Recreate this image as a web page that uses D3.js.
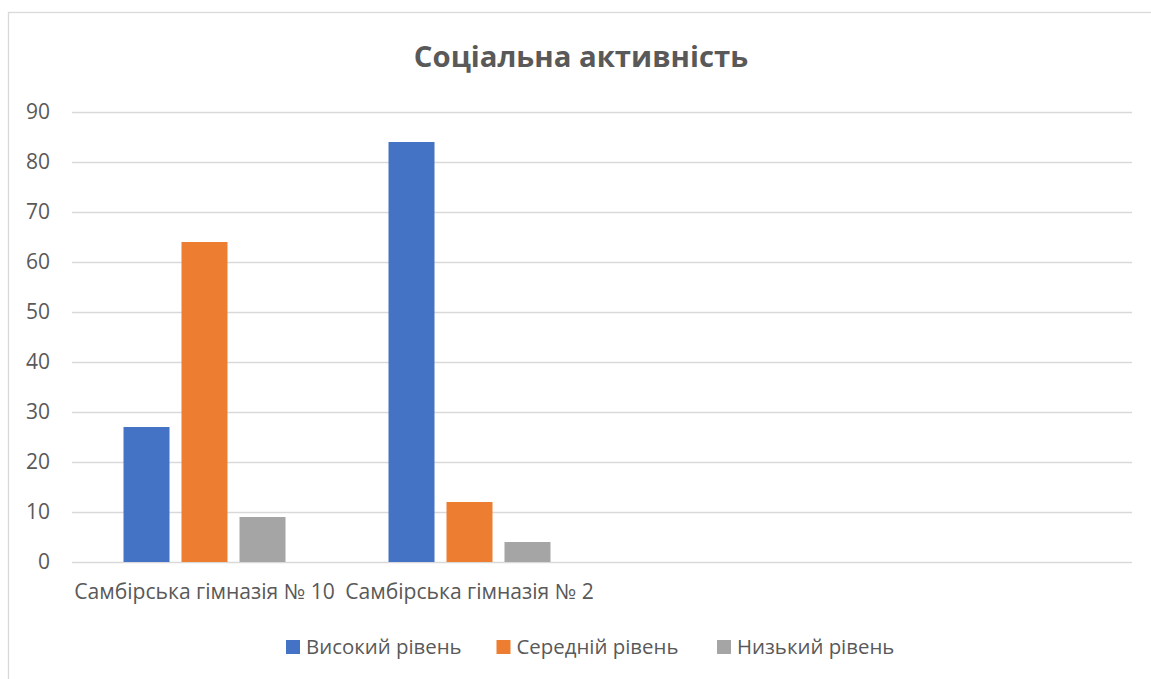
<!DOCTYPE html>
<html>
<head>
<meta charset="utf-8">
<script src="https://cdn.jsdelivr.net/npm/d3@7"></script>
<style>
  html, body { margin: 0; padding: 0; background: #fff; }
  svg { display: block; font-family: "Open Sans", "Noto Sans", sans-serif; }
</style>
</head>
<body>
<svg id="chart" width="1151" height="679"></svg>
<script>
const title = "Соціальна активність";
const categories = ["Самбірська гімназія № 10", "Самбірська гімназія № 2", "", ""];
const seriesNames = ["Високий рівень", "Середній рівень", "Низький рівень"];
const seriesColors = ["#4472C4", "#ED7D31", "#A5A5A5"];
const highValues = [27, 84];
const midValues = [64, 12];
const lowValues = [9, 4];
const yTicks = [0, 10, 20, 30, 40, 50, 60, 70, 80, 90];

const seriesValues = [highValues, midValues, lowValues];
const svg = d3.select("#chart");
const textColor = "#595959";
const gridColor = "#D9D9D9";

// chart border
svg.append("rect")
  .attr("x", 8.5).attr("y", 12.5)
  .attr("width", 1160).attr("height", 700)
  .attr("fill", "none").attr("stroke", gridColor).attr("stroke-width", 1.3);

const x = d3.scaleBand().domain(d3.range(categories.length)).range([72, 1132]).paddingInner(0).paddingOuter(0);
const x1 = d3.scaleBand().domain(d3.range(seriesNames.length)).range([0, x.bandwidth()])
  .paddingInner(12 / 58).paddingOuter(0.888);
const y = d3.scaleLinear().domain([0, 90]).range([562, 112]);

// gridlines
const yAxis = d3.axisLeft(y).tickValues(yTicks).tickSize(-(1132 - 72)).tickPadding(22);
const gy = svg.append("g").attr("transform", "translate(72,0)").call(yAxis);
gy.select(".domain").remove();
gy.selectAll(".tick line").attr("stroke", gridColor).attr("stroke-width", 1.3);
gy.selectAll(".tick text").attr("fill", textColor).attr("font-size", 21)
  .attr("font-family", '"Open Sans", sans-serif');

// bars
const barData = [];
seriesValues.forEach((vals, si) => vals.forEach((v, ci) => barData.push({ si, ci, v })));
svg.append("g").selectAll("rect").data(barData).join("rect")
  .attr("x", d => x(d.ci) + x1(d.si))
  .attr("y", d => y(d.v))
  .attr("width", x1.bandwidth())
  .attr("height", d => y(0) - y(d.v))
  .attr("fill", d => seriesColors[d.si]);

// x axis labels
const xAxis = d3.axisBottom(x).tickFormat(i => categories[i]).tickSize(0).tickPadding(22.5);
const gx = svg.append("g").attr("transform", "translate(0,562)").call(xAxis);
gx.select(".domain").remove();
gx.selectAll(".tick text").attr("fill", textColor).attr("font-size", 21.1)
  .attr("font-family", '"Open Sans", sans-serif');

// title
svg.append("text").attr("x", 581).attr("y", 67).attr("text-anchor", "middle")
  .attr("font-size", 29.3).attr("font-weight", "bold").attr("fill", textColor).text(title);

// legend
const legendX = [286, 496.5, 717];
const lg = svg.append("g").selectAll("g").data(seriesNames).join("g")
  .attr("transform", (d, i) => `translate(${legendX[i]},640)`);
lg.append("rect").attr("width", 14).attr("height", 14).attr("fill", (d, i) => seriesColors[i]);
lg.append("text").attr("x", 20).attr("y", 14).attr("font-size", 20.4).attr("fill", textColor).text(d => d);
</script>
</body>
</html>
